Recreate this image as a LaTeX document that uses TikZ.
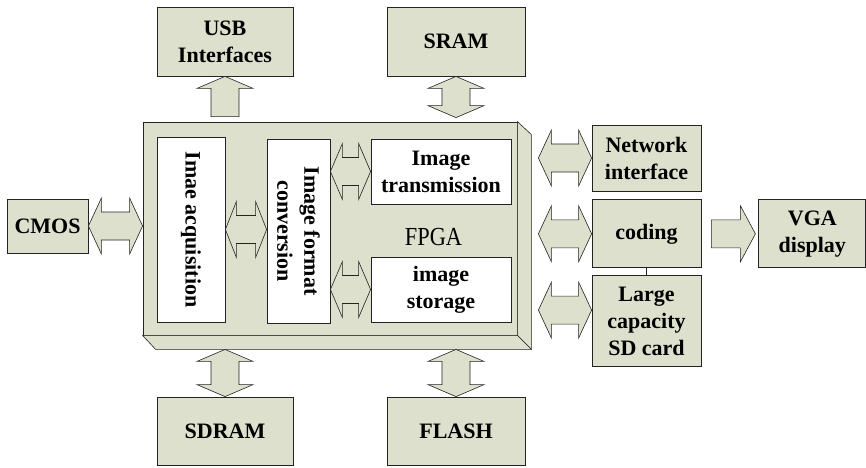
\documentclass[tikz,border=0pt]{standalone}
\usepackage{fontspec}
\usepackage{graphicx}
\setmainfont{Liberation Serif}
\usetikzlibrary{positioning, calc}

\definecolor{boxfill}{RGB}{220,224,204}
\definecolor{edge}{RGB}{35,35,35}

% block arrows, all drawn between two points
\newcommand{\hdarrow}[3][13pt]{%
  \draw[blk] let \p1=#2, \p2=#3 in
    (\x1,\y1) -- (\x1+#1,\y1+28pt) -- (\x1+#1,\y1+14pt) -- (\x2-#1,\y1+14pt)
    -- (\x2-#1,\y1+28pt) -- (\x2,\y1) -- (\x2-#1,\y1-28pt) -- (\x2-#1,\y1-14pt)
    -- (\x1+#1,\y1-14pt) -- (\x1+#1,\y1-28pt) -- cycle;}
\newcommand{\vdarrow}[3][12pt]{%
  \draw[blk] let \p1=#2, \p2=#3 in
    (\x1,\y1) -- (\x1+28pt,\y1-#1) -- (\x1+14pt,\y1-#1) -- (\x1+14pt,\y2+#1)
    -- (\x1+28pt,\y2+#1) -- (\x1,\y2) -- (\x1-28pt,\y2+#1) -- (\x1-14pt,\y2+#1)
    -- (\x1-14pt,\y1-#1) -- (\x1-28pt,\y1-#1) -- cycle;}
\newcommand{\vsarrow}[2]{%
  \draw[blk] let \p1=#1, \p2=#2 in
    (\x2,\y2) -- (\x2+28pt,\y2-12pt) -- (\x2+14pt,\y2-12pt) -- (\x2+14pt,\y1)
    -- (\x2-14pt,\y1) -- (\x2-14pt,\y2-12pt) -- (\x2-28pt,\y2-12pt) -- cycle;}
\newcommand{\hsarrow}[2]{%
  \draw[blk] let \p1=#1, \p2=#2 in
    (\x1,\y1+14pt) -- (\x2-15pt,\y1+14pt) -- (\x2-15pt,\y1+28pt) -- (\x2,\y1)
    -- (\x2-15pt,\y1-28pt) -- (\x2-15pt,\y1-14pt) -- (\x1,\y1-14pt) -- cycle;}

\begin{document}
\begin{tikzpicture}[x=1pt, y=-1pt,
	box/.style={draw=edge, fill=boxfill, line width=0.8pt, align=center, inner sep=0pt, font=\bfseries\fontsize{22}{27}\selectfont},
	inbox/.style={draw=edge, fill=white, line width=0.8pt, align=center, inner sep=0pt, font=\bfseries\fontsize{22}{27}\selectfont},
	vtext/.style={rotate=-90, align=center, inner sep=0pt, font=\bfseries\fontsize{22}{27}\selectfont},
	blk/.style={draw=edge, fill=boxfill, line width=0.6pt}
	]
	\useasboundingbox (0,0) rectangle (866,467);

	\node[box, minimum width=136pt, minimum height=69pt] (usb) at (225,41.5) {USB\\Interfaces};
	\node[box, minimum width=138pt, minimum height=69pt] (sram) at (456,41.5) {SRAM};
	\node[box, minimum width=81pt, minimum height=54pt] (cmos) at (47.5,226) {CMOS};

	% FPGA block with bevelled edge
	\node[box, minimum width=374pt, minimum height=213pt] (fpga) at (330,228.5) {};
	\draw[blk] (fpga.north east) -- ++(14,13) -- ($(fpga.south east)+(14,14)$) -- (fpga.south east) -- cycle;
	\draw[blk] (fpga.south west) -- ++(13,14) -- ($(fpga.south east)+(14,14)$) -- (fpga.south east) -- cycle;
	\node[inner sep=0pt, font=\fontsize{26}{26}\selectfont] (fpgatxt) at (433.5,237.5) {\scalebox{0.86}[1]{FPGA}};

	\node[inbox, minimum width=68pt, minimum height=185pt] (acq) at (191,229.5) {};
	\node[vtext] (acqtxt) at (acq.center) {Imae acquisition};
	\node[inbox, minimum width=63pt, minimum height=184pt] (conv) at (298.5,231) {};
	\node[vtext] (convtxt) at (conv.center) {Image format\\conversion};
	\node[inbox, minimum width=140pt, minimum height=65pt] (trans) at (441,171.5) {Image\\transmission};
	\node[inbox, minimum width=140pt, minimum height=65pt] (stor) at (441,289.5) {image\\storage};

	\node[box, minimum width=109pt, minimum height=66pt] (net) at (646.5,158) {Network\\interface};
	\node[box, minimum width=109pt, minimum height=68pt, below=8pt of net] (coding) {coding};
	\node[box, minimum width=109pt, minimum height=91pt, below=7pt of coding] (sd) {Large\\capacity\\SD card};
	\node[box, minimum width=107pt, minimum height=68pt, right=57pt of coding] (vga) {VGA\\display};

	\node[box, minimum width=136pt, minimum height=68pt] (sdram) at (225,431) {SDRAM};
	\node[box, minimum width=138pt, minimum height=68pt] (flash) at (456,431) {FLASH};

	\coordinate (side) at ($(fpga.east)+(21,0)$);

	\draw[edge, line width=0.8pt] (coding.south) -- (sd.north);

	% arrows
	\hdarrow{(cmos.east)}{(cmos.east -| fpga.west)}
	\hdarrow[11pt]{(acq.east)}{(acq.east -| conv.west)}
	\hdarrow[12pt]{(trans.west -| conv.east)}{(trans.west)}
	\hdarrow[12pt]{(stor.west -| conv.east)}{(stor.west)}
	\hdarrow{(net.west -| side)}{(net.west)}
	\hdarrow{(coding.west -| side)}{(coding.west)}
	\hdarrow{($(sd.west -| side)+(0,-11)$)}{($(sd.west)+(0,-11)$)}
	\hsarrow{($(coding.east)+(10,0)$)}{($(coding.east -| vga.west)+(-3,0)$)}
	\vsarrow{($(usb.south |- fpga.north)+(0,-5)$)}{(usb.south)}
	\vdarrow{(sram.south)}{($(sram.south |- fpga.north)+(0,-4)$)}
	\vdarrow{($(sdram.north |- fpga.south)+(0,14)$)}{(sdram.north)}
	\vdarrow{($(flash.north |- fpga.south)+(0,14)$)}{(flash.north)}

\end{tikzpicture}
\end{document}
